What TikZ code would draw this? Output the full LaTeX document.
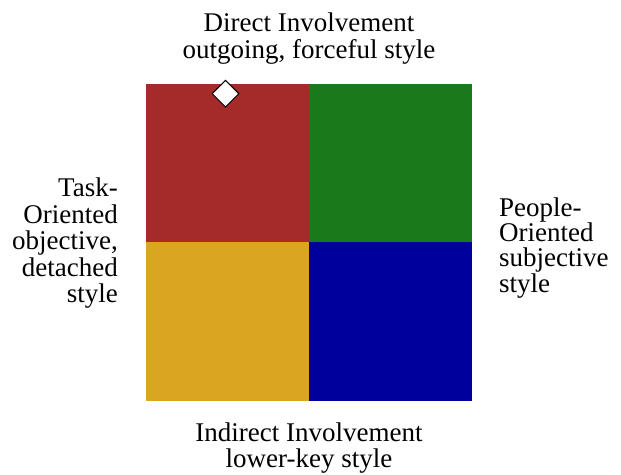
\documentclass[tikz,border=0pt]{standalone}
\usepackage{fontspec}
\setmainfont{Liberation Serif}
\usetikzlibrary{shapes.geometric}
\definecolor{qred}{HTML}{A52A2A}
\definecolor{qgreen}{HTML}{1A7A1A}
\definecolor{qyellow}{HTML}{DAA520}
\definecolor{qblue}{HTML}{00009C}
\tikzset{
  quad/.style={draw=none, minimum width=163pt, minimum height=158pt, inner sep=0pt, outer sep=0pt, anchor=north west},
  lbl/.style={inner sep=0pt, font=\fontsize{27}{26.5}\selectfont},
  marker/.style={diamond, draw=black, line width=1pt, fill=white, minimum size=27pt, inner sep=0pt}
}
\begin{document}
\begin{tikzpicture}[x=1pt,y=-1pt]
\useasboundingbox (0,0) rectangle (621,474);
\node[quad, fill=qred] (tl) at (146,84) {};
\node[quad, fill=qgreen] (tr) at (309,84) {};
\node[quad, fill=qyellow, minimum height=159pt] (bl) at (146,242) {};
\node[quad, fill=qblue, minimum height=159pt] (br) at (309,242) {};
\node[marker] (mk) at (225.5,93.7) {};
\node[lbl, align=center, anchor=base] (top) at (309,58) {Direct Involvement\\outgoing, forceful style};
\node[lbl, align=center, anchor=base] (bot) at (309,467.5) {Indirect Involvement\\lower-key style};
\node[lbl, align=right, anchor=base east] (left) at (118,302.5) {Task-\\Oriented\\objective,\\detached\\style};
\node[lbl, font=\fontsize{27}{25.2}\selectfont, align=left, anchor=base west] (right) at (499,292) {People-\\Oriented\\subjective\\style};
\end{tikzpicture}
\end{document}
